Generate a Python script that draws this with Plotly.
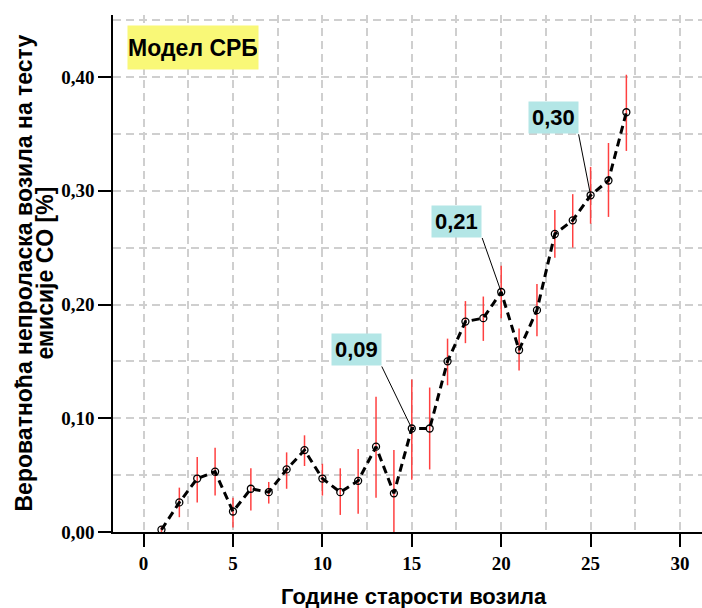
import plotly.graph_objects as go

# ---- data ----
age = list(range(1, 28))
prob = [0.002, 0.026, 0.047, 0.053, 0.018, 0.038, 0.035, 0.055, 0.072, 0.047,
        0.035, 0.045, 0.075, 0.034, 0.091, 0.091, 0.150, 0.185, 0.188, 0.211,
        0.160, 0.195, 0.262, 0.274, 0.296, 0.309, 0.369]
upper = [0.005, 0.039, 0.066, 0.074, 0.030, 0.056, 0.044, 0.070, 0.085, 0.060,
         0.056, 0.073, 0.119, 0.072, 0.134, 0.127, 0.170, 0.203, 0.207, 0.234,
         0.179, 0.218, 0.283, 0.297, 0.321, 0.342, 0.402]
lower = [0.000, 0.013, 0.026, 0.032, 0.004, 0.019, 0.025, 0.038, 0.058, 0.032,
         0.015, 0.016, 0.030, 0.000, 0.046, 0.055, 0.129, 0.166, 0.168, 0.188,
         0.142, 0.172, 0.241, 0.250, 0.271, 0.277, 0.335]
labelled_ages = [15, 20, 25]
x_ticks = [0, 5, 10, 15, 20, 25, 30]
y_ticks = [0.0, 0.1, 0.2, 0.3, 0.4]
y_title_lines = ["Вероватноћа непроласка возила на тесту", "емисије CO [%]"]
x_title = "Године старости возила"
model_label = "Модел СРБ"

err_plus = [u - p for u, p in zip(upper, prob)]
err_minus = [p - l for p, l in zip(prob, lower)]

GRID = "#cfcfcf"
L, R, T, B, W, H = 113, 0, 15, 76, 702, 608
PW = W - L - R

fig = go.Figure()
fig.add_trace(go.Scatter(
    x=age, y=prob, mode="lines+markers",
    line=dict(color="black", width=3, dash="8px,5px"),
    marker=dict(symbol="circle-open", size=7, color="black", line=dict(width=1.3, color="black")),
    error_y=dict(type="data", symmetric=False, array=err_plus, arrayminus=err_minus,
                 color="#ff4040", thickness=1.5, width=0),
    cliponaxis=False, showlegend=False,
))

# annotation offsets (pixels, tail at box bottom-right corner)
offsets = {15: (-30, -62), 20: (-19, -54), 25: (-12, -61)}
for a in labelled_ages:
    v = prob[age.index(a)]
    ax, ay = offsets[a]
    fig.add_annotation(
        x=a, y=v, xref="x", yref="y",
        text=f"{v:.2f}".replace(".", ","),
        showarrow=True, arrowhead=0, arrowwidth=1, arrowcolor="black",
        ax=ax, ay=ay, xanchor="right", yanchor="bottom",
        bgcolor="#b3e6e6", borderpad=3,
        font=dict(family="Liberation Sans", size=22, color="black", weight="bold"),
    )

fig.add_annotation(
    x=0.0233, y=0.9807, xref="paper", yref="paper", xanchor="left", yanchor="top",
    text=model_label, showarrow=False, bgcolor="#f9f877",
    width=128, height=41, borderpad=1,
    font=dict(family="Liberation Sans", size=23, color="black", weight="bold"),
)

# y-axis title lines (rotated)
for txt, xc in zip(y_title_lines, [23, 44]):
    fig.add_annotation(
        x=(xc - L) / PW, y=0.5, xref="paper", yref="paper",
        xanchor="center", yanchor="middle", textangle=-90,
        text=txt, showarrow=False,
        font=dict(family="Liberation Sans", size=23, color="black", weight="bold"),
    )

# x-axis title
fig.add_annotation(
    x=(414 - L) / PW, y=-(596 - (H - B)) / (H - T - B), xref="paper", yref="paper",
    xanchor="center", yanchor="middle", text=x_title, showarrow=False,
    font=dict(family="Liberation Sans", size=22, color="black", weight="bold"),
)

fig.update_layout(
    width=W, height=H,
    margin=dict(l=L, r=R, t=T, b=B),
    plot_bgcolor="white", paper_bgcolor="white",
    separators=",.",
    xaxis=dict(
        range=[-1.71, 31.23], tickvals=x_ticks, ticktext=[str(v) for v in x_ticks],
        showline=True, linecolor="black", linewidth=1.5,
        ticks="outside", ticklen=13, tickwidth=1.5, tickcolor="black",
        showgrid=True, gridcolor=GRID, gridwidth=1.5, griddash="8px,5px",
        minor=dict(dtick=2.5, tick0=0, showgrid=True, gridcolor=GRID, gridwidth=1.5, griddash="8px,5px", ticks=""),
        zeroline=False,
        tickfont=dict(family="Liberation Serif", size=19, color="black", weight="bold"),
    ),
    yaxis=dict(
        range=[0, 0.4545], tickvals=y_ticks, tickformat=".2f",
        showline=True, linecolor="black", linewidth=1.5,
        ticks="outside", ticklen=13, tickwidth=1.5, tickcolor="black",
        showgrid=True, gridcolor=GRID, gridwidth=1.5, griddash="8px,5px",
        minor=dict(dtick=0.05, tick0=0, showgrid=True, gridcolor=GRID, gridwidth=1.5, griddash="8px,5px", ticks=""),
        zeroline=False,
        tickfont=dict(family="Liberation Serif", size=19, color="black", weight="bold"),
    ),
)

fig.write_html("out.html")
